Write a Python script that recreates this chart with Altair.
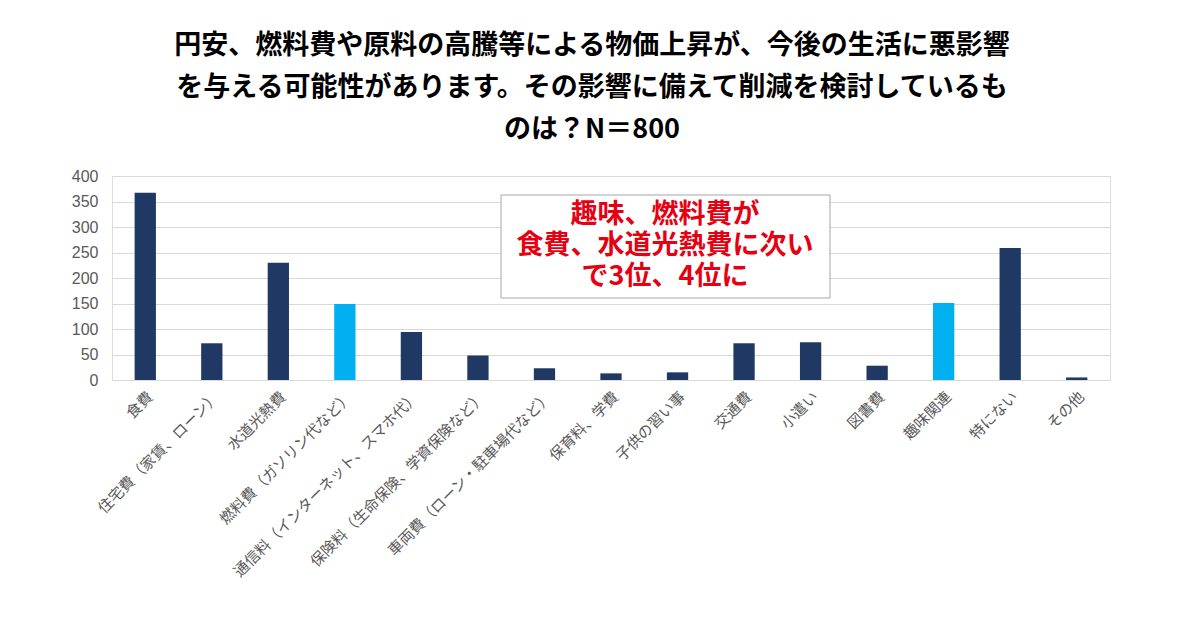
import altair as alt
import pandas as pd

categories = [
    "食費", "住宅費（家賃、ローン）", "水道光熱費", "燃料費（ガソリン代など）",
    "通信料（インターネット、スマホ代）", "保険料（生命保険、学資保険など）",
    "車両費（ローン・駐車場代など）", "保育料、学費", "子供の習い事", "交通費",
    "小遣い", "図書費", "趣味関連", "特にない", "その他",
]
values = [367, 72, 230, 149, 94, 48, 23, 13, 15, 72, 74, 28, 151, 259, 5]
highlight = [False, False, False, True, False, False, False, False, False, False,
             False, False, True, False, False]

title_lines = [
    "円安、燃料費や原料の高騰等による物価上昇が、今後の生活に悪影響",
    "を与える可能性があります。その影響に備えて削減を検討しているも",
    "のは？N＝800",
]
note_lines = ["趣味、燃料費が", "食費、水道光熱費に次い", "で3位、4位に"]

df = pd.DataFrame({"category": categories, "value": values, "hl": highlight})

FONT = "Noto Sans CJK JP"

bars = alt.Chart(df).mark_bar().encode(
    x=alt.X(
        "category:N",
        sort=categories,
        title=None,
        scale=alt.Scale(paddingInner=0.68, paddingOuter=0.34),
        axis=alt.Axis(
            labelAngle=-45, labelFontSize=15, labelColor="#595959", labelFont=FONT,
            ticks=False, domain=False, labelPadding=9, labelLimit=400,
        ),
    ),
    y=alt.Y(
        "value:Q",
        title=None,
        scale=alt.Scale(domain=[0, 400]),
        axis=alt.Axis(
            values=[0, 50, 100, 150, 200, 250, 300, 350, 400],
            labelFontSize=16, labelColor="#595959", labelFont="Liberation Sans",
            ticks=False, domain=False, gridColor="#d9d9d9", labelPadding=14,
        ),
    ),
    color=alt.Color(
        "hl:N",
        scale=alt.Scale(domain=[False, True], range=["#1F3864", "#00B0F0"]),
        legend=None,
    ),
)

box = alt.Chart(pd.DataFrame({"t": [0]})).mark_rect(
    fill="white", stroke="#a6a6a6", strokeWidth=1
).encode(
    x=alt.value(389), x2=alt.value(718), y=alt.value(19), y2=alt.value(122)
)

note = alt.Chart(pd.DataFrame({"t": [note_lines]})).mark_text(
    font=FONT, fontSize=27, fontWeight="bold", color="#E50012",
    lineHeight=31, align="center", baseline="middle",
).encode(
    x=alt.value(553), y=alt.value(39), text="t:N"
)

chart = alt.layer(bars, box, note).properties(
    width=998,
    height=204,
    autosize=alt.AutoSizeParams(type="none"),
    padding={"left": 112, "top": 176, "right": 90, "bottom": 239},
    title=alt.TitleParams(
        text=title_lines, font=FONT, fontSize=27, fontWeight="bold", color="#000000",
        lineHeight=42, anchor="middle", dx=-19, offset=24,
    ),
).configure_view(stroke=None).configure(background="white")

chart.save("out.html", embed_options={"renderer": "svg", "actions": False})
